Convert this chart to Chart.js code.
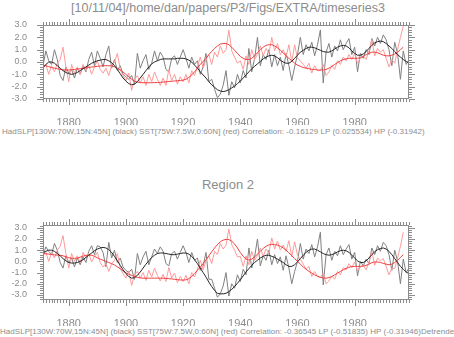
<!DOCTYPE html>
<html>
<head>
<meta charset="utf-8">
<script src="https://cdn.jsdelivr.net/npm/chart.js@4"></script>
<style>
  body { margin: 0; background: #fff; }
  #page { position: relative; width: 454px; height: 337px; overflow: hidden; font-family: "Liberation Sans", Arial, sans-serif; color: #8c8c8c; }
  .txt { position: absolute; white-space: nowrap; }
  canvas { position: absolute; left: 0; }
</style>
</head>
<body>
<div id="page">
  <div class="txt" id="title" style="left:0; width:456px; top:1px; text-align:center; font-size:12.5px; line-height:14px;">[10/11/04]/home/dan/papers/P3/Figs/EXTRA/timeseries3</div>
  <canvas id="panel1" width="454" height="125" style="top:0"></canvas>
  <div class="txt" style="left:2px; top:127px; font-size:8px; line-height:10px; letter-spacing:0.05px;">HadSLP[130W:70W,15N:45N] (black) SST[75W:7.5W,0:60N] (red) Correlation: -0.16129 LP (0.025534) HP (-0.31942)</div>
  <div class="txt" style="left:0; width:456px; top:178px; text-align:center; font-size:13px; line-height:14px;">Region 2</div>
  <canvas id="panel2" width="454" height="126" style="top:200px"></canvas>
  <div class="txt" style="left:0; top:327px; font-size:8px; line-height:10px; letter-spacing:0.05px;">HadSLP[130W:70W,15N:45N] (black) SST[75W:7.5W,0:60N] (red) Correlation: -0.36545 LP (-0.51835) HP (-0.31946)Detrended</div>
</div>
<script>
// years on the x axis: SLP runs 1871-1999, SST 1871-1997
const firstYear = 1871;
const lastYear = 1999;
const majorYears = [1880, 1900, 1920, 1940, 1960, 1980];
const majorValues = [-3, -2, -1, 0, 1, 2, 3];

// panel 1: raw series
const slpRaw1 = [
  -0.3, 0.9, 0.1, -0.2, 1.0, 0.2, -1.1, -1.5, -0.4, -0.9,
  -0.6, -1.3, -0.5, -1.0, -0.3, -0.8, 0.2, 0.8, -0.3, 0.9,
  0.3, -0.4, 0.6, 1.3, -0.5, 0.2, -0.7, -0.3, -1.0, -1.2,
  -1.4, -1.1, -1.8, 0.7, -0.5, 0.1, 0.6, -0.6, -0.1, 0.9,
  0.1, 0.8, 0.4, -0.6, -0.8, 0.3, 0.5, -0.2, 0.4, 1.0,
  0.3, -0.5, 0.4, -0.2, 0.1, -1.0, -0.4, 0.7, -1.6, -1.4,
  -2.2, -2.9, -2.6, -1.9, -0.7, -2.7, -1.6, -2.1, -1.0, -1.7,
  -0.7, -1.3, 1.1, -0.8, 0.3, 2.0, -0.3, 0.6, 0.2, 1.0,
  -0.4, 0.6, -0.3, 0.4, -0.7, 0.7, -0.3, -1.5, -0.4, 0.6,
  2.0, 0.6, 1.4, 0.9, 1.6, 0.5, 1.4, 2.6, -1.7, 0.8,
  1.5, 0.4, 1.3, 0.9, 1.8, 1.0, 1.5, 1.9, 0.6, 1.2,
  -0.8, 0.7, 0.3, 1.0, 0.6, 1.9, 1.3, 2.0, 1.5, 2.2,
  1.8, 1.0, -0.3, 1.6, 0.7, -1.4, 0.9, -0.2, 0.2
];
const slpLow1 = [
  -0.5, -0.2, 0.0, 0.0, -0.1, -0.3, -0.5, -0.7, -0.85, -0.95,
  -1.0, -0.95, -0.85, -0.7, -0.55, -0.4, -0.25, -0.1, 0.0, 0.1,
  0.15, 0.2, 0.2, 0.1, -0.05, -0.3, -0.6, -0.95, -1.3, -1.55,
  -1.75, -1.85, -1.8, -1.6, -1.3, -1.0, -0.7, -0.4, -0.15, 0.0,
  0.1, 0.2, 0.25, 0.25, 0.25, 0.25, 0.25, 0.3, 0.3, 0.3,
  0.25, 0.15, 0.0, -0.25, -0.5, -0.8, -1.05, -1.3, -1.6, -1.85,
  -2.05, -2.25, -2.35, -2.4, -2.35, -2.25, -2.1, -1.95, -1.75, -1.55,
  -1.3, -1.05, -0.8, -0.55, -0.35, -0.15, 0.05, 0.25, 0.4, 0.5,
  0.55, 0.5, 0.35, 0.15, 0.0, -0.1, -0.1, 0.05, 0.3, 0.55,
  0.8, 0.95, 1.1, 1.2, 1.2, 1.15, 1.05, 0.95, 0.85, 0.8,
  0.8, 0.9, 1.05, 1.2, 1.3, 1.35, 1.3, 1.15, 0.9, 0.7,
  0.55, 0.55, 0.65, 0.85, 1.1, 1.35, 1.55, 1.65, 1.7, 1.65,
  1.5, 1.3, 1.1, 0.85, 0.6, 0.4, 0.2, 0.05, -0.1
];
const sstRaw1 = [
  -0.4, -0.2, -1.0, -0.3, -0.8, -0.1, 0.2, 1.2, -0.4, -1.6,
  -0.2, -0.9, -0.4, -1.0, -0.2, -0.7, -0.3, -1.0, -0.4, 0.1,
  -0.6, -0.9, -0.5, -1.1, -0.3, 0.0, 0.7, -0.6, -1.1, -1.5,
  -0.9, -2.3, -1.4, -1.1, -1.7, -1.2, -1.9, -1.0, -1.6, -0.8,
  -1.4, -1.9, -1.3, -1.9, -0.6, -1.5, -1.0, -1.8, -1.2, -1.6,
  -1.0, -1.7, -0.7, -1.1, -0.4, 0.4, -0.5, 0.2, 0.6, -0.2,
  0.8, 0.4, 1.3, 0.7, 1.0, 2.6, 0.9, 0.4, -0.1, 0.1,
  -0.6, 0.5, -0.2, 1.0, 0.2, 0.6, 1.3, 0.5, 1.1, 0.7,
  2.0, 0.9, 1.5, 0.6, 1.0, 0.4, 1.4, 0.0, 1.4, 0.3,
  0.1, -0.2, -0.5, -0.1, -0.9, -0.3, -0.7, -0.7, -0.2, -1.1,
  -0.8, -0.3, -0.6, 0.1, -0.2, 0.4, 0.1, 0.6, 0.2, 0.7,
  -0.1, 0.3, 0.5, 0.2, 0.9, 1.8, 0.5, 1.1, 0.8, 1.0,
  0.3, -0.4, 0.2, -0.1, 1.0, 2.0, 2.9
];
const sstLow1 = [
  -0.25, -0.3, -0.38, -0.45, -0.5, -0.55, -0.6, -0.63, -0.65, -0.65,
  -0.63, -0.6, -0.57, -0.55, -0.52, -0.48, -0.44, -0.41, -0.38, -0.35,
  -0.32, -0.3, -0.3, -0.3, -0.32, -0.38, -0.5, -0.65, -0.82, -1.0,
  -1.2, -1.4, -1.55, -1.63, -1.67, -1.68, -1.68, -1.68, -1.68, -1.67,
  -1.66, -1.65, -1.63, -1.61, -1.58, -1.56, -1.54, -1.52, -1.5, -1.47,
  -1.4, -1.25, -1.05, -0.8, -0.5, -0.2, 0.05, 0.3, 0.6, 0.85,
  1.1, 1.3, 1.45, 1.5, 1.5, 1.4, 1.2, 0.95, 0.7, 0.45,
  0.3, 0.2, 0.2, 0.3, 0.5, 0.75, 1.0, 1.2, 1.35, 1.4,
  1.4, 1.3, 1.15, 0.95, 0.75, 0.5, 0.3, 0.1, -0.1, -0.25,
  -0.35, -0.45, -0.5, -0.55, -0.6, -0.6, -0.65, -0.65, -0.65, -0.6,
  -0.5, -0.35, -0.2, -0.05, 0.1, 0.2, 0.25, 0.3, 0.3, 0.3,
  0.3, 0.35, 0.45, 0.6, 0.7, 0.8, 0.8, 0.75, 0.65, 0.55,
  0.5, 0.5, 0.55, 0.65, 0.8, 1.0, 1.2
];

// panel 2 (Region 2): detrended series
const slpRaw2 = [
  0.5, 1.3, 0.9, 0.6, 1.6, 1.0, -0.1, -0.6, 0.5, -0.1,
  0.3, -0.5, 0.3, -0.3, 0.4, -0.1, 0.9, 1.4, 0.6, 1.4,
  1.3, 0.8, -0.5, 1.7, 0.3, 1.0, -0.1, 0.3, -0.5, -0.8,
  -1.0, -0.7, -1.6, 0.7, -0.3, 0.4, 0.9, -0.3, 0.4, 1.1,
  0.7, 1.3, 0.9, -0.2, -0.4, 0.7, 0.9, 0.2, 0.8, 1.4,
  0.8, -0.1, 0.8, 0.1, 0.3, -0.8, -0.4, 0.8, -1.6, -1.6,
  -2.4, -3.2, -2.9, -2.2, -1.0, -3.1, -2.0, -2.4, -1.2, -1.8,
  -0.7, -1.2, 1.2, -0.6, 0.4, 2.0, -0.4, 0.5, 0.1, 1.0,
  -0.3, 0.6, -0.2, 0.4, -0.8, 0.5, -0.6, -2.0, -0.9, 0.0,
  1.6, 0.2, 1.1, 0.7, 1.5, 0.4, 1.3, 2.6, -2.1, 0.6,
  1.2, 0.1, 0.9, 0.5, 1.4, 0.6, 1.1, 1.5, 0.2, 0.8,
  -1.3, 0.0, -0.4, 0.2, -0.2, 1.2, 0.6, 1.4, 0.9, 1.7,
  1.4, 0.6, -0.8, 1.0, 0.0, -2.0, 0.2, -1.0, -0.6
];
const slpLow2 = [
  0.75, 0.9, 1.0, 1.0, 0.9, 0.7, 0.5, 0.25, 0.05, -0.1,
  -0.15, -0.15, -0.1, 0.0, 0.15, 0.35, 0.55, 0.75, 0.95, 1.1,
  1.2, 1.25, 1.2, 1.05, 0.8, 0.45, 0.05, -0.35, -0.75, -1.1,
  -1.35, -1.5, -1.45, -1.25, -0.95, -0.6, -0.25, 0.05, 0.35, 0.55,
  0.7, 0.75, 0.75, 0.7, 0.65, 0.6, 0.6, 0.65, 0.7, 0.75,
  0.75, 0.65, 0.45, 0.15, -0.2, -0.6, -1.0, -1.4, -1.85, -2.25,
  -2.6, -2.85, -2.9, -2.9, -2.85, -2.7, -2.5, -2.25, -1.95, -1.65,
  -1.3, -0.95, -0.65, -0.35, -0.1, 0.1, 0.3, 0.45, 0.55, 0.55,
  0.45, 0.35, 0.2, 0.05, -0.1, -0.3, -0.45, -0.45, -0.3, -0.05,
  0.25, 0.55, 0.8, 1.0, 1.1, 1.1, 1.0, 0.85, 0.7, 0.6,
  0.55, 0.6, 0.7, 0.85, 0.95, 1.0, 0.95, 0.8, 0.55, 0.3,
  0.05, -0.1, -0.1, 0.05, 0.3, 0.6, 0.85, 1.05, 1.15, 1.2,
  1.1, 0.9, 0.6, 0.25, -0.1, -0.45, -0.7, -0.95, -1.1
];
const sstRaw2 = [
  0.55, 0.8, 0.0, 0.8, 0.3, 1.0, 1.35, 2.3, 0.7, -0.6,
  0.7, 0.0, 0.5, -0.1, 0.8, 0.3, 0.7, -0.05, 0.45, 0.8,
  -0.1, -0.5, -0.2, -0.9, -0.2, 0.05, 0.7, -0.6, -1.1, -1.5,
  -0.85, -2.15, -1.2, -0.9, -1.5, -1.0, -1.7, -0.8, -1.4, -0.6,
  -1.25, -1.75, -1.15, -1.8, -0.55, -1.5, -1.05, -1.9, -1.35, -1.8,
  -1.25, -2.0, -1.0, -1.4, -0.7, 0.1, -0.75, 0.05, 0.5, -0.2,
  0.9, 0.6, 1.6, 1.1, 1.45, 2.9, 1.5, 1.0, 0.4, 0.45,
  -0.45, 0.5, -0.3, 0.9, 0.1, 0.5, 1.2, 0.45, 1.1, 0.75,
  2.1, 1.1, 1.8, 1.0, 1.45, 0.9, 1.85, 0.4, 1.75, 0.55,
  0.2, -0.25, -0.7, -0.45, -1.35, -0.9, -1.35, -1.45, -1.05, -2.0,
  -1.75, -1.3, -1.6, -0.9, -1.2, -0.55, -0.75, -0.2, -0.55, -0.05,
  -0.85, -0.5, -0.35, -0.75, -0.05, 0.9, -0.35, 0.3, 0.05, 0.25,
  -0.45, -1.2, -0.6, -0.65, 0.3, 1.35, 2.6
];
const sstLow2 = [
  0.7, 0.68, 0.65, 0.62, 0.58, 0.56, 0.55, 0.5, 0.42, 0.33,
  0.28, 0.27, 0.3, 0.38, 0.47, 0.53, 0.56, 0.55, 0.45, 0.32,
  0.2, 0.1, 0.0, -0.1, -0.2, -0.32, -0.48, -0.66, -0.85, -1.02,
  -1.15, -1.25, -1.35, -1.43, -1.48, -1.5, -1.5, -1.5, -1.5, -1.5,
  -1.5, -1.5, -1.5, -1.52, -1.54, -1.57, -1.6, -1.63, -1.66, -1.67,
  -1.65, -1.55, -1.35, -1.1, -0.8, -0.5, -0.2, 0.15, 0.5, 0.85,
  1.2, 1.5, 1.75, 1.9, 1.97, 1.95, 1.8, 1.55, 1.2, 0.8,
  0.45, 0.2, 0.12, 0.2, 0.4, 0.65, 0.9, 1.15, 1.35, 1.47,
  1.52, 1.5, 1.45, 1.35, 1.2, 1.0, 0.75, 0.5, 0.25, 0.0,
  -0.25, -0.5, -0.7, -0.9, -1.05, -1.2, -1.32, -1.42, -1.48, -1.5,
  -1.45, -1.35, -1.2, -1.05, -0.9, -0.75, -0.62, -0.52, -0.47, -0.45,
  -0.45, -0.45, -0.42, -0.35, -0.25, -0.12, -0.05, -0.05, -0.1, -0.18,
  -0.25, -0.3, -0.25, -0.1, 0.1, 0.35, 0.6
];

const axisColor = "#8c8c8c";
const textColor = "#8c8c8c";

// pair each value with its year
function toPoints(values) {
  return values.map((v, i) => ({ x: firstYear + i, y: v }));
}

// box round the plot area, with yearly and 0.2 ticks pointing outwards
const frameTicks = {
  id: "frameTicks",
  afterDraw(chart) {
    const { ctx, chartArea: a, scales } = chart;
    const x = scales.x;
    const y = scales.y;
    ctx.save();
    ctx.strokeStyle = axisColor;
    ctx.lineWidth = 1;
    ctx.strokeRect(a.left + 0.5, a.top + 0.5, a.right - a.left - 1, a.bottom - a.top - 1);
    ctx.beginPath();
    for (let yr = firstYear; yr <= lastYear; yr++) {
      const px = Math.round(x.getPixelForValue(yr)) + 0.5;
      const len = yr % 20 === 0 ? 6 : 3;
      ctx.moveTo(px, a.bottom);
      ctx.lineTo(px, a.bottom + len);
      ctx.moveTo(px, a.top);
      ctx.lineTo(px, a.top - len);
    }
    const first = Math.ceil(y.min * 5 - 1e-6);
    const last = Math.floor(y.max * 5 + 1e-6);
    for (let k = first; k <= last; k++) {
      const py = Math.round(y.getPixelForValue(k / 5)) + 0.5;
      const len = k % 5 === 0 ? 6 : 3;
      ctx.moveTo(a.left, py);
      ctx.lineTo(a.left - len, py);
      ctx.moveTo(a.right, py);
      ctx.lineTo(a.right + len, py);
    }
    ctx.stroke();
    ctx.restore();
  },
};

function makePanel(canvasId, slpRaw, slpLow, sstRaw, sstLow, yMin, yMax) {
  return new Chart(document.getElementById(canvasId), {
    type: "line",
    data: {
      datasets: [
        { data: toPoints(slpLow), borderColor: "#262626", borderWidth: 1, order: 1 },
        { data: toPoints(sstLow), borderColor: "#f04040", borderWidth: 1, order: 2 },
        { data: toPoints(sstRaw), borderColor: "#ff9a9a", borderWidth: 1, order: 3 },
        { data: toPoints(slpRaw), borderColor: "#808080", borderWidth: 1, order: 4 },
      ],
    },
    options: {
      responsive: false,
      devicePixelRatio: 1,
      animation: false,
      layout: { padding: { top: 25, right: 45, left: 0, bottom: 0 } },
      elements: { point: { radius: 0 }, line: { tension: 0 } },
      plugins: { legend: { display: false }, tooltip: { enabled: false } },
      scales: {
        x: {
          type: "linear",
          min: firstYear,
          max: lastYear,
          afterBuildTicks: (s) => { s.ticks = majorYears.map((v) => ({ value: v })); },
          afterFit: (s) => { s.height = 26; },
          ticks: {
            color: textColor,
            font: { family: "Liberation Sans", size: 11 },
            padding: 9,
            maxRotation: 0,
            autoSkip: false,
            callback: (v) => String(v),
          },
          grid: { display: false },
          border: { display: false },
        },
        y: {
          min: yMin,
          max: yMax,
          afterBuildTicks: (s) => { s.ticks = majorValues.map((v) => ({ value: v })); },
          afterFit: (s) => { s.width = 43; },
          ticks: {
            color: textColor,
            font: { family: "Liberation Sans", size: 9 },
            padding: 8,
            autoSkip: false,
            callback: (v) => v.toFixed(1),
          },
          grid: { display: false },
          border: { display: false },
        },
      },
    },
    plugins: [frameTicks],
  });
}

makePanel("panel1", slpRaw1, slpLow1, sstRaw1, sstLow1, -3, 3);
makePanel("panel2", slpRaw2, slpLow2, sstRaw2, sstLow2, -3.45, 3.25);
</script>
</body>
</html>
